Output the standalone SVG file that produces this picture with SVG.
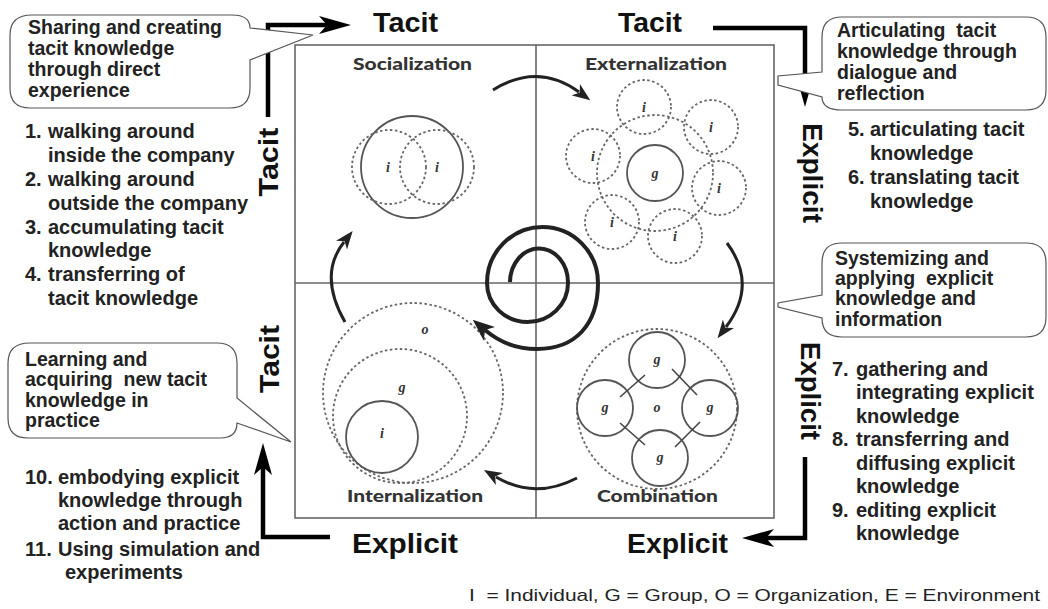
<svg xmlns="http://www.w3.org/2000/svg" width="1048" height="609" viewBox="0 0 1048 609">
<style>
.ax{font-family:"Liberation Sans",Arial,sans-serif;font-weight:bold;font-size:27px;fill:#111}
.cl{font-family:"Liberation Sans",Arial,sans-serif;font-weight:bold;font-size:19.5px;fill:#222;white-space:pre}
.li{font-family:"Liberation Sans",Arial,sans-serif;font-weight:bold;font-size:20px;fill:#222}
.qt{font-family:Lato,"Liberation Sans",sans-serif;font-weight:900;font-size:16px;fill:#333}
.lb{font-family:"Liberation Serif",serif;font-style:italic;font-weight:bold;font-size:14px;fill:#333;text-anchor:middle}
.ft{font-family:"Liberation Sans",Arial,sans-serif;font-size:17px;fill:#222;white-space:pre}
.sol{fill:none;stroke:#555;stroke-width:1.8}
.dot{fill:none;stroke:#666;stroke-width:1.8;stroke-dasharray:2.5 2.5}
.cyc{fill:none;stroke:#222;stroke-width:3}
.axl{fill:none;stroke:#000;stroke-width:4.5;stroke-linejoin:miter}
.bub{fill:#fff;stroke:#555;stroke-width:1.2}
.frm{fill:none;stroke:#666;stroke-width:1.6}
</style>
<defs>
<marker id="ah" viewBox="0 0 32 20" refX="10" refY="10" markerWidth="32" markerHeight="20" markerUnits="userSpaceOnUse" orient="auto"><path d="M0,1 L32,10 L0,19 L8,10 Z" fill="#000"/></marker>
<marker id="ch" viewBox="0 0 18 14" refX="4" refY="7" markerWidth="18" markerHeight="14" markerUnits="userSpaceOnUse" orient="auto"><path d="M0,0 L18,7 L0,14 L5,7 Z" fill="#222"/></marker>
<marker id="sh" viewBox="0 0 22 18" refX="6" refY="9" markerWidth="22" markerHeight="18" markerUnits="userSpaceOnUse" orient="auto"><path d="M0,0 L22,9 L0,18 L6,9 Z" fill="#222"/></marker>
</defs>
<rect width="1048" height="609" fill="#fff"/>

<g id="frame">
<rect class="frm" x="295" y="45" width="479" height="473"/>
<line class="frm" x1="536" y1="45" x2="536" y2="518"/>
<line class="frm" x1="295" y1="283" x2="774" y2="283"/>
</g>

<g id="socialization">
<text class="qt" x="353" y="70" textLength="119" lengthAdjust="spacingAndGlyphs">Socialization</text>
<circle class="sol" cx="412" cy="167" r="51"/>
<circle class="dot" cx="389" cy="167" r="37"/>
<circle class="dot" cx="437" cy="167" r="37"/>
<text class="lb" x="388" y="172">i</text>
<text class="lb" x="437" y="172">i</text>
</g>

<g id="externalization">
<text class="qt" x="585" y="70" textLength="142" lengthAdjust="spacingAndGlyphs">Externalization</text>
<circle class="dot" cx="655" cy="173" r="58"/>
<circle class="sol" cx="655" cy="173" r="28"/>
<text class="lb" x="655" y="178">g</text>
<circle class="dot" cx="644" cy="107" r="27"/>
<circle class="dot" cx="711" cy="127" r="27"/>
<circle class="dot" cx="593" cy="156" r="27"/>
<circle class="dot" cx="719" cy="188" r="27"/>
<circle class="dot" cx="612" cy="222" r="27"/>
<circle class="dot" cx="675" cy="236" r="27"/>
<text class="lb" x="644" y="112">i</text>
<text class="lb" x="711" y="132">i</text>
<text class="lb" x="593" y="161">i</text>
<text class="lb" x="719" y="193">i</text>
<text class="lb" x="612" y="227">i</text>
<text class="lb" x="675" y="241">i</text>
</g>

<g id="internalization">
<text class="qt" x="347" y="502" textLength="136" lengthAdjust="spacingAndGlyphs">Internalization</text>
<circle class="dot" cx="413" cy="393" r="90"/>
<circle class="dot" cx="400" cy="416" r="67"/>
<circle class="sol" cx="382" cy="437" r="36"/>
<text class="lb" x="425" y="334">o</text>
<text class="lb" x="402" y="392">g</text>
<text class="lb" x="382" y="438">i</text>
</g>

<g id="combination">
<text class="qt" x="597" y="502" textLength="121" lengthAdjust="spacingAndGlyphs">Combination</text>
<circle class="dot" cx="657" cy="409" r="80"/>
<circle class="sol" cx="657" cy="360" r="28"/>
<circle class="sol" cx="605" cy="408" r="28"/>
<circle class="sol" cx="710" cy="408" r="28"/>
<circle class="sol" cx="660" cy="458" r="28"/>
<g stroke="#444" stroke-width="1.6">
<line x1="645" y1="375" x2="620" y2="397"/>
<line x1="672" y1="369" x2="697" y2="395"/>
<line x1="620" y1="423" x2="645" y2="445"/>
<line x1="700" y1="422" x2="675" y2="447"/>
</g>
<text class="lb" x="657" y="364">g</text>
<text class="lb" x="605" y="412">g</text>
<text class="lb" x="710" y="412">g</text>
<text class="lb" x="660" y="462">g</text>
<text class="lb" x="657" y="412">o</text>
</g>

<g id="connectors">
<path class="cyc" d="M493,90 Q538,62 579,92" marker-end="url(#ch)"/>
<path class="cyc" d="M727,243 Q758,285 726,327" marker-end="url(#ch)"/>
<path class="cyc" d="M577,478 Q535,500 496,477" marker-end="url(#ch)"/>
<path class="cyc" d="M345,322 Q318,275 344,242" marker-end="url(#ch)"/>
<path fill="none" stroke="#222" stroke-width="4" d="M510,282 A29,34 0 0 1 568,283 A40.5,39 0 0 1 487,283 A55.5,56 0 0 1 598,283 C598,325 575,349 537,349 C515,349 498,341 485,330" marker-end="url(#sh)"/>
<path class="axl" d="M268,117 V25 H329" marker-end="url(#ah)"/>
<path class="axl" d="M713,28 H805 V85" marker-end="url(#ah)"/>
<path class="axl" d="M805,457 V538 H764" marker-end="url(#ah)"/>
<path class="axl" d="M330,537 H263 V465" marker-end="url(#ah)"/>
</g>

<g id="axis-labels">
<text class="ax" x="373" y="32" textLength="65" lengthAdjust="spacingAndGlyphs">Tacit</text>
<text class="ax" x="618" y="32" textLength="64" lengthAdjust="spacingAndGlyphs">Tacit</text>
<text class="ax" x="352" y="553" textLength="106" lengthAdjust="spacingAndGlyphs">Explicit</text>
<text class="ax" x="627" y="553" textLength="101" lengthAdjust="spacingAndGlyphs">Explicit</text>
<text class="ax" transform="translate(278,162) rotate(-90)" x="-34.5" y="0" textLength="69" lengthAdjust="spacingAndGlyphs">Tacit</text>
<text class="ax" transform="translate(279,359) rotate(-90)" x="-34" y="0" textLength="68" lengthAdjust="spacingAndGlyphs">Tacit</text>
<text class="ax" transform="translate(803,173) rotate(90)" x="-50" y="0" textLength="100" lengthAdjust="spacingAndGlyphs">Explicit</text>
<text class="ax" transform="translate(801,391) rotate(90)" x="-49" y="0" textLength="98" lengthAdjust="spacingAndGlyphs">Explicit</text>
</g>

<g id="callout-socialization">
<path class="bub" d="M32,15 H232 Q250,15 250,28 L313,35 L250,60 V88 Q250,108 230,108 H30 Q10,108 10,88 V35 Q10,15 32,15 Z"/>
<text class="cl" x="28" y="34">Sharing and creating</text>
<text class="cl" x="28" y="55">tacit knowledge</text>
<text class="cl" x="28" y="76">through direct</text>
<text class="cl" x="28" y="97">experience</text>
</g>

<g id="callout-externalization">
<path class="bub" d="M842,17 H1026 Q1046,17 1046,37 V90 Q1046,110 1026,110 H842 Q822,110 822,97 L778,85 L778,76 L822,72 V37 Q822,17 842,17 Z"/>
<text class="cl" x="837" y="37">Articulating  tacit</text>
<text class="cl" x="837" y="58">knowledge through</text>
<text class="cl" x="837" y="79">dialogue and</text>
<text class="cl" x="837" y="100">reflection</text>
</g>

<g id="callout-combination">
<path class="bub" d="M842,243 H1026 Q1046,243 1046,263 V317 Q1046,337 1026,337 H842 Q822,337 822,318 L778,307 L778,303 L822,295 V263 Q822,243 842,243 Z"/>
<text class="cl" x="835" y="265">Systemizing and</text>
<text class="cl" x="835" y="285">applying  explicit</text>
<text class="cl" x="835" y="305">knowledge and</text>
<text class="cl" x="835" y="326">information</text>
</g>

<g id="callout-internalization">
<path class="bub" d="M30,343 H217 Q237,343 237,363 V398 L291,442 L237,423 Q237,438 220,438 H28 Q8,438 8,418 V363 Q8,343 30,343 Z"/>
<text class="cl" x="25" y="366">Learning and</text>
<text class="cl" x="25" y="386">acquiring  new tacit</text>
<text class="cl" x="25" y="407">knowledge in</text>
<text class="cl" x="25" y="427">practice</text>
</g>

<g id="list-socialization">
<text class="li" x="25" y="138">1.</text><text class="li" x="48" y="138">walking around</text>
<text class="li" x="48" y="162">inside the company</text>
<text class="li" x="25" y="186">2.</text><text class="li" x="48" y="186">walking around</text>
<text class="li" x="48" y="210">outside the company</text>
<text class="li" x="25" y="234">3.</text><text class="li" x="48" y="234">accumulating tacit</text>
<text class="li" x="48" y="257">knowledge</text>
<text class="li" x="25" y="281">4.</text><text class="li" x="48" y="281">transferring of</text>
<text class="li" x="48" y="305">tacit knowledge</text>
</g>

<g id="list-externalization">
<text class="li" x="848" y="136">5.</text><text class="li" x="870" y="136">articulating tacit</text>
<text class="li" x="870" y="160">knowledge</text>
<text class="li" x="848" y="184">6.</text><text class="li" x="870" y="184">translating tacit</text>
<text class="li" x="870" y="208">knowledge</text>
</g>

<g id="list-combination">
<text class="li" x="832" y="376">7.</text><text class="li" x="856" y="376">gathering and</text>
<text class="li" x="856" y="399">integrating explicit</text>
<text class="li" x="856" y="423">knowledge</text>
<text class="li" x="832" y="446">8.</text><text class="li" x="856" y="446">transferring and</text>
<text class="li" x="856" y="470">diffusing explicit</text>
<text class="li" x="856" y="493">knowledge</text>
<text class="li" x="832" y="517">9.</text><text class="li" x="856" y="517">editing explicit</text>
<text class="li" x="856" y="540">knowledge</text>
</g>

<g id="list-internalization">
<text class="li" x="25" y="484">10.</text><text class="li" x="58" y="484">embodying explicit</text>
<text class="li" x="58" y="507">knowledge through</text>
<text class="li" x="58" y="530">action and practice</text>
<text class="li" x="25" y="556">11.</text><text class="li" x="58" y="556">Using simulation and</text>
<text class="li" x="65" y="579">experiments</text>
</g>

<g id="legend">
<text class="ft" x="469" y="601" textLength="571" lengthAdjust="spacingAndGlyphs">I  = Individual, G = Group, O = Organization, E = Environment</text>
</g>
</svg>
